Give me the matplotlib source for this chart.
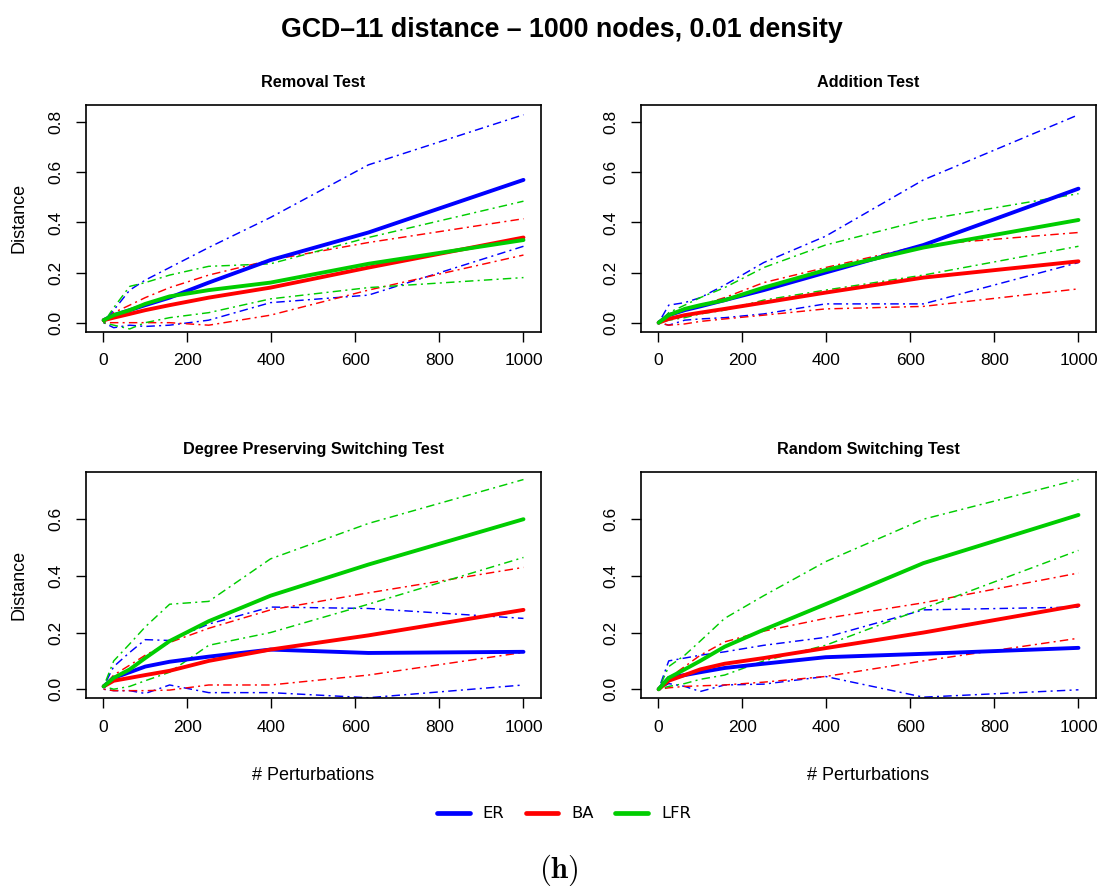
import matplotlib
matplotlib.use('Agg')
import matplotlib.pyplot as plt
from matplotlib.lines import Line2D

plt.rcParams['font.family'] = ['Liberation Sans', 'DejaVu Sans']
plt.rcParams['mathtext.fontset'] = 'cm'

# number of perturbations
perturbations = [1, 25, 63, 100, 158, 251, 398, 631, 1000]

models = ['ER', 'BA', 'LFR']
colors = ['#0000FF', '#FF0000', '#00CD00']

# Removal Test
rem_er_mean = [0.01, 0.03, 0.05, 0.07, 0.10, 0.16, 0.25, 0.36, 0.57]
rem_er_hi = [0.0, 0.05, 0.13, 0.17, 0.22, 0.30, 0.42, 0.63, 0.83]
rem_er_lo = [0.0, -0.02, -0.01, -0.015, -0.01, 0.01, 0.08, 0.11, 0.305]
rem_ba_mean = [0.01, 0.02, 0.035, 0.05, 0.07, 0.10, 0.14, 0.22, 0.34]
rem_ba_hi = [0.0, 0.04, 0.07, 0.10, 0.14, 0.19, 0.25, 0.32, 0.415]
rem_ba_lo = [0.0, 0.0, 0.0, 0.0, 0.0, -0.01, 0.03, 0.13, 0.27]
rem_lfr_mean = [0.01, 0.03, 0.05, 0.075, 0.105, 0.13, 0.16, 0.235, 0.33]
rem_lfr_hi = [0.0, 0.06, 0.145, 0.16, 0.19, 0.225, 0.235, 0.34, 0.485]
rem_lfr_lo = [0.0, -0.01, -0.025, 0.0, 0.02, 0.04, 0.095, 0.14, 0.18]

# Addition Test
add_er_mean = [0.0, 0.03, 0.05, 0.065, 0.09, 0.13, 0.20, 0.31, 0.535]
add_er_hi = [0.0, 0.07, 0.08, 0.10, 0.15, 0.24, 0.345, 0.57, 0.83]
add_er_lo = [0.0, -0.01, 0.01, 0.015, 0.02, 0.035, 0.075, 0.075, 0.24]
add_ba_mean = [0.0, 0.015, 0.03, 0.04, 0.055, 0.08, 0.12, 0.18, 0.245]
add_ba_hi = [0.0, 0.03, 0.05, 0.07, 0.10, 0.16, 0.22, 0.31, 0.36]
add_ba_lo = [0.0, -0.01, -0.005, 0.005, 0.015, 0.03, 0.055, 0.065, 0.135]
add_lfr_mean = [0.0, 0.03, 0.055, 0.07, 0.09, 0.14, 0.21, 0.30, 0.41]
add_lfr_hi = [0.0, 0.04, 0.07, 0.10, 0.14, 0.22, 0.31, 0.41, 0.515]
add_lfr_lo = [0.0, 0.01, 0.02, 0.035, 0.05, 0.09, 0.13, 0.19, 0.305]

# Degree Preserving Switching Test
dps_er_mean = [0.01, 0.04, 0.06, 0.08, 0.097, 0.115, 0.14, 0.128, 0.132]
dps_er_hi = [0.01, 0.08, 0.13, 0.175, 0.172, 0.23, 0.29, 0.285, 0.25]
dps_er_lo = [0.0, -0.005, -0.005, -0.015, 0.015, -0.012, -0.012, -0.03, 0.015]
dps_ba_mean = [0.01, 0.03, 0.04, 0.05, 0.065, 0.10, 0.14, 0.19, 0.28]
dps_ba_hi = [0.01, 0.05, 0.085, 0.12, 0.165, 0.215, 0.28, 0.34, 0.43]
dps_ba_lo = [0.0, -0.005, -0.005, -0.005, -0.003, 0.015, 0.015, 0.05, 0.13]
dps_lfr_mean = [0.01, 0.04, 0.07, 0.11, 0.17, 0.24, 0.33, 0.44, 0.60]
dps_lfr_hi = [0.01, 0.10, 0.16, 0.22, 0.30, 0.31, 0.46, 0.585, 0.74]
dps_lfr_lo = [0.01, 0.0, 0.01, 0.03, 0.06, 0.155, 0.20, 0.30, 0.465]

# Random Switching Test
rnd_er_mean = [0.0, 0.04, 0.05, 0.06, 0.075, 0.09, 0.113, 0.125, 0.146]
rnd_er_hi = [0.0, 0.10, 0.11, 0.12, 0.132, 0.155, 0.183, 0.28, 0.29]
rnd_er_lo = [0.0, 0.02, 0.01, -0.008, 0.015, 0.018, 0.045, -0.028, -0.002]
rnd_ba_mean = [0.0, 0.03, 0.05, 0.07, 0.09, 0.11, 0.145, 0.20, 0.296]
rnd_ba_hi = [0.0, 0.04, 0.08, 0.12, 0.167, 0.205, 0.25, 0.305, 0.41]
rnd_ba_lo = [0.0, 0.005, 0.01, 0.012, 0.015, 0.025, 0.045, 0.10, 0.18]
rnd_lfr_mean = [0.0, 0.04, 0.07, 0.10, 0.15, 0.21, 0.30, 0.445, 0.615]
rnd_lfr_hi = [0.0, 0.08, 0.12, 0.17, 0.25, 0.33, 0.45, 0.60, 0.74]
rnd_lfr_lo = [0.0, 0.01, 0.02, 0.035, 0.05, 0.10, 0.155, 0.285, 0.49]

W, H = 1105, 886
DASHDOT = (0, (1.4, 2.9, 5.8, 2.9))


def draw_panel(ax, title, series, ylim, yticks):
    for (mean, lo, hi), c in zip(series, colors):
        ax.plot(perturbations, hi, color=c, lw=1.05, linestyle=DASHDOT)
        ax.plot(perturbations, lo, color=c, lw=1.05, linestyle=DASHDOT)
    for (mean, lo, hi), c in zip(series, colors):
        ax.plot(perturbations, mean, color=c, lw=2.8, solid_capstyle='round')
    ax.set_xlim(-41, 1041)
    ax.set_ylim(*ylim)
    ax.set_xticks([0, 200, 400, 600, 800, 1000])
    ax.set_yticks(yticks)
    ax.set_yticklabels(['%.1f' % t for t in yticks], rotation=90, va='center')
    ax.tick_params(axis='both', direction='out', length=7.5, width=1.0,
                   labelsize=12.5, color='black')
    ax.tick_params(axis='x', pad=8)
    ax.tick_params(axis='y', pad=9)
    for s in ax.spines.values():
        s.set_linewidth(1.2)
    ax.set_title(title, fontsize=11.7, fontweight='bold', pad=13)


fig = plt.figure(figsize=(W / 100, H / 100), dpi=100)

ax_w = 454.7 / W
ax_h = 226.7 / H
lefts = [86 / W, 641 / W]
bottoms = [1 - 331.7 / H, 1 - 698.3 / H]

ax_rem = fig.add_axes([lefts[0], bottoms[0], ax_w, ax_h])
ax_add = fig.add_axes([lefts[1], bottoms[0], ax_w, ax_h])
ax_dps = fig.add_axes([lefts[0], bottoms[1], ax_w, ax_h])
ax_rnd = fig.add_axes([lefts[1], bottoms[1], ax_w, ax_h])

top_lim = (-0.036, 0.869)
bot_lim = (-0.032, 0.768)
top_ticks = [0.0, 0.2, 0.4, 0.6, 0.8]
bot_ticks = [0.0, 0.2, 0.4, 0.6]

draw_panel(ax_rem, 'Removal Test',
           [(rem_er_mean, rem_er_lo, rem_er_hi),
            (rem_ba_mean, rem_ba_lo, rem_ba_hi),
            (rem_lfr_mean, rem_lfr_lo, rem_lfr_hi)], top_lim, top_ticks)
draw_panel(ax_add, 'Addition Test',
           [(add_er_mean, add_er_lo, add_er_hi),
            (add_ba_mean, add_ba_lo, add_ba_hi),
            (add_lfr_mean, add_lfr_lo, add_lfr_hi)], top_lim, top_ticks)
draw_panel(ax_dps, 'Degree Preserving Switching Test',
           [(dps_er_mean, dps_er_lo, dps_er_hi),
            (dps_ba_mean, dps_ba_lo, dps_ba_hi),
            (dps_lfr_mean, dps_lfr_lo, dps_lfr_hi)], bot_lim, bot_ticks)
draw_panel(ax_rnd, 'Random Switching Test',
           [(rnd_er_mean, rnd_er_lo, rnd_er_hi),
            (rnd_ba_mean, rnd_ba_lo, rnd_ba_hi),
            (rnd_lfr_mean, rnd_lfr_lo, rnd_lfr_hi)], bot_lim, bot_ticks)

for ax in [ax_rem, ax_dps]:
    ax.set_ylabel('Distance', fontsize=13)
    ax.yaxis.label.set_va('center')
    ax.yaxis.set_label_coords(-0.148, 0.5)
for ax in [ax_dps, ax_rnd]:
    ax.set_xlabel('# Perturbations', fontsize=13)
    ax.xaxis.label.set_va('center')
    ax.xaxis.set_label_coords(0.5, -0.342)

fig.text(562 / W, 1 - 37 / H, 'GCD\u201311 distance \u2013 1000 nodes, 0.01 density',
         ha='center', va='baseline', fontsize=19.3, fontweight='bold')

handles = [Line2D([], [], color=c, lw=3.4, solid_capstyle='round') for c in colors]
fig.legend(handles, models, loc='center', bbox_to_anchor=(564 / W, 1 - 814 / H),
           ncol=3, frameon=False, handlelength=2.0, handletextpad=0.8,
           columnspacing=1.3, prop={'family': 'DejaVu Sans', 'size': 11.8})

fig.text(559 / W, 1 - 870 / H, r'$\mathbf{(h)}$', ha='center', va='center',
         fontsize=22)

fig.savefig('out.png', dpi=100)
